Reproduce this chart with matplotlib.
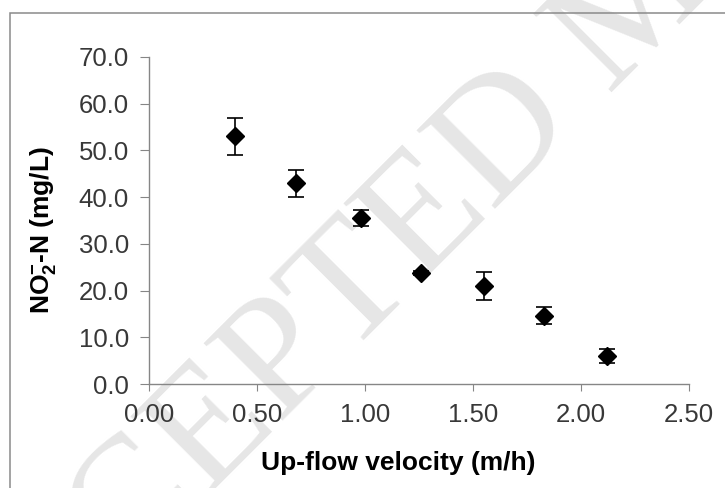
import matplotlib
matplotlib.use("Agg")
import matplotlib.pyplot as plt
from matplotlib.patches import Rectangle

plt.rcParams['font.family'] = ['Liberation Sans', 'DejaVu Sans']
plt.rcParams['mathtext.fontset'] = 'custom'
plt.rcParams['mathtext.bf'] = 'Liberation Sans:bold'
plt.rcParams['mathtext.rm'] = 'Liberation Sans:bold'
plt.rcParams['mathtext.default'] = 'bf'

# data
velocity = [0.40, 0.68, 0.98, 1.26, 1.55, 1.83, 2.12]
no2_n = [53.0, 43.0, 35.5, 23.8, 21.0, 14.6, 6.0]
no2_err = [4.0, 2.9, 1.7, 0.4, 3.0, 1.8, 1.4]

x_ticks = [0.0, 0.5, 1.0, 1.5, 2.0, 2.5]
y_ticks = [0, 10, 20, 30, 40, 50, 60, 70]

fig = plt.figure(figsize=(7.25, 4.88), dpi=100)

# watermark behind everything
fig.text(0.885, 0.99, 'ACCEPTED MANUSCRIPT', fontsize=122, family='Liberation Serif',
         color='#e6e6e6', rotation=45, ha='center', va='center', zorder=-5)

# outer frame of the chart area
fig.patches.append(Rectangle((10 / 725, -0.2), 1.2, 0.2 + 1 - 13 / 488, transform=fig.transFigure,
                             fill=False, edgecolor='#8a8a8a', linewidth=1.1, zorder=-4))

ax = fig.add_axes([149 / 725, 1 - 384 / 488, 540 / 725, 327 / 488])
ax.set_facecolor('none')

ax.errorbar(velocity, no2_n, yerr=no2_err, fmt='D', color='black', markersize=9.5,
            ecolor='black', elinewidth=1.2, capsize=5.5, capthick=1.2)

ax.set_xlim(0, 2.5)
ax.set_ylim(0, 70)
ax.set_xticks(x_ticks)
ax.set_xticklabels(['%.2f' % v for v in x_ticks])
ax.set_yticks(y_ticks)
ax.set_yticklabels(['%.1f' % v for v in y_ticks])

for s in ['top', 'right']:
    ax.spines[s].set_visible(False)
for s in ['left', 'bottom']:
    ax.spines[s].set_color('#868686')
    ax.spines[s].set_linewidth(1.0)

ax.tick_params(axis='both', colors='#868686', labelcolor='#383838', labelsize=18.5, direction='out')
ax.tick_params(axis='x', length=5, pad=9)
ax.tick_params(axis='y', length=6.5, pad=8)

ax.set_xlabel('Up-flow velocity (m/h)', fontsize=19, fontweight='bold')
ax.set_ylabel('NO$_2^{-}$-N (mg/L)', fontsize=19, fontweight='bold')
ax.xaxis.set_label_coords(0.461, -0.205)
ax.yaxis.set_label_coords(-0.168, 0.47)

fig.savefig('out.png', dpi=100)
